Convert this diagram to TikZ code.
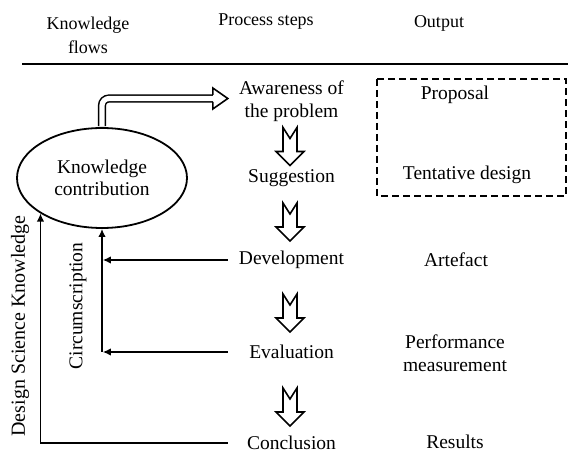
\documentclass[tikz,border=0pt]{standalone}
\usepackage{fontspec}
\setmainfont{Liberation Serif}
\usetikzlibrary{calc,arrows.meta,shapes.geometric}
\begin{document}
\begin{tikzpicture}[x=1pt,y=-1pt,
  body/.style={font=\fontsize{19.5}{22.5}\selectfont, align=center, inner sep=0pt},
  headtext/.style={font=\fontsize{18}{24}\selectfont, align=center, inner sep=0pt},
  stepbox/.style={body, minimum width=127pt, minimum height=24pt},
  flow/.style={line width=1.8pt},
  tipped/.style={-{Latex[length=8pt,width=7.5pt]}},
  hollow/.style={line width=1.6pt, line join=miter},
  downarrow/.pic={
    \draw[hollow] (-7,-19) -- (0,-8) -- (7,-19) -- (7,5) -- (14,5)
      -- (0,19) -- (-14,5) -- (-7,5) -- cycle;
  },
]
\useasboundingbox (0,0) rectangle (568,454);

% column headings and rule
\node[headtext] (hk) at (88,35) {Knowledge\\flows};
\node[headtext] (hp) at (266,22) {Process steps};
\node[headtext] (ho) at (439,23) {Output};
\coordinate (ruleL) at (22,64);
\coordinate (ruleR) at (568,64);
\draw[line width=2.2pt] (ruleL) -- (ruleR);

% process steps
\node[stepbox] (aware) at (291.5,101) {Awareness of\\the problem};
\node[stepbox] (sugg)  at (291.5,178) {Suggestion};
\node[stepbox] (dev)   at (291.5,260) {Development};
\node[stepbox] (eval)  at (291.5,352) {Evaluation};
\node[stepbox] (concl) at (291.5,443) {Conclusion};

\pic at (290,146.5) {downarrow};
\pic at (290,222) {downarrow};
\pic at (290,313) {downarrow};
\pic at (290,407) {downarrow};

% outputs
\draw[line width=2pt, dash pattern=on 7pt off 4pt] (377,79) rectangle (566,196);
\node[body] (prop) at (455,95) {Proposal};
\node[body] (tent) at (467,175) {Tentative design};
\node[body] (art)  at (456,260) {Artefact};
\node[body] (perf) at (455,353) {Performance\\measurement};
\node[body] (res)  at (455,442) {Results};

% knowledge contribution
\node[draw, ellipse, line width=1.8pt, minimum width=170pt, minimum height=100pt,
      body] (kc) at (102,178) {Knowledge\\contribution};

% double-line arrow to the first step
\coordinate (hb) at ($(aware.west)+(-15,-2.5)$);
\draw[line width=1.5pt, double, double distance=5.2pt, rounded corners=7pt,
      shorten <=1pt] (kc.north) |- (hb);
\draw[hollow] ($(hb)+(0,-3.5)$) -- ($(hb)+(0,-10.5)$) -- ($(hb)+(15,0)$)
  -- ($(hb)+(0,10.5)$) -- ($(hb)+(0,3.5)$);

% circumscription loop
\coordinate (cd) at (dev.west -| kc.south);
\coordinate (ce) at (eval.west -| kc.south);
\draw[flow, tipped, shorten >=0.8pt] (dev.west) -- (cd);
\draw[flow, tipped, shorten >=0.8pt] (eval.west) -- (ce);
\draw[flow, tipped] (ce) -- (kc.south);
\node[body, rotate=90] (circ) at (78,306) {Circumscription};

% design science knowledge loop
\draw[flow, tipped] (concl.west) -| (kc.210.5);
\node[body, font=\fontsize{20}{23}\selectfont, rotate=90] (dsk) at (20,326) {Design Science Knowledge};
\end{tikzpicture}
\end{document}
